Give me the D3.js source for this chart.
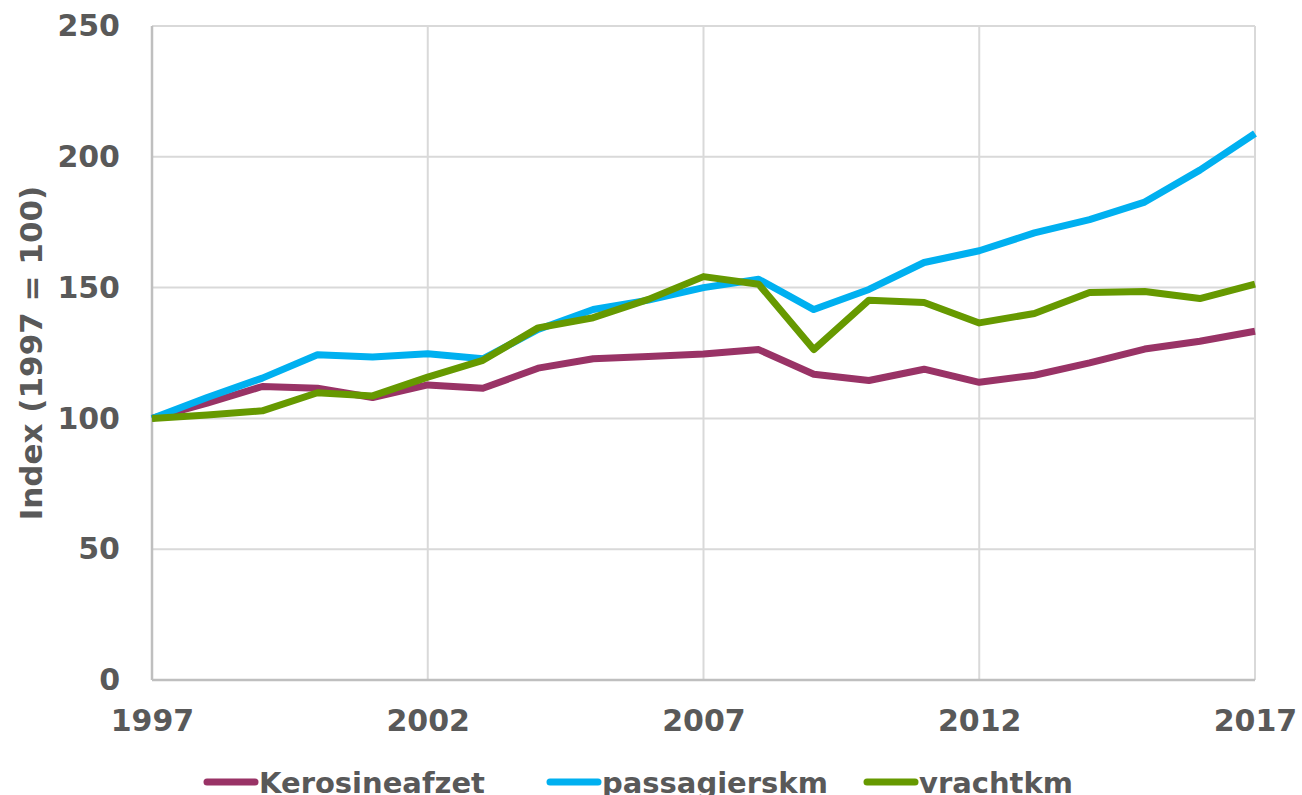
<!DOCTYPE html>
<html>
<head>
<meta charset="utf-8">
<script src="https://cdn.jsdelivr.net/npm/d3@7"></script>
<style>
  body { margin: 0; background: #fff; }
  text { font-family: Verdana, "DejaVu Sans", sans-serif; font-weight: bold; fill: #595959; }
</style>
</head>
<body>
<div class="chart"></div>
<script>
// Data
var years = d3.range(1997, 2018);
var kerosine = [100, 105.8, 112.2, 111.5, 108, 112.8, 111.5, 119.2, 122.8, 123.7, 124.6,
                126.3, 116.9, 114.5, 118.8, 113.8, 116.5, 121.2, 126.5, 129.5, 133.3];
var passagiers = [100, 108, 115.4, 124.3, 123.5, 124.7, 122.8, 134, 141.6, 145.2, 150,
                  153.2, 141.6, 149.3, 159.6, 164.1, 170.9, 176, 182.7, 194.9, 208.9];
var vracht = [100, 101.3, 102.9, 109.8, 108.6, 115.8, 122.2, 134.6, 138.5, 145.5, 154.2,
              151.3, 126.3, 145.2, 144.3, 136.5, 140.1, 148.1, 148.5, 145.8, 151.3];
var seriesNames = ["Kerosineafzet", "passagierskm", "vrachtkm"];
var seriesColors = ["#993366", "#00b0f0", "#669900"];
var yTicks = [0, 50, 100, 150, 200, 250];
var xTicks = [1997, 2002, 2007, 2012, 2017];

var svgWidth = 1302;
var svgHeight = 795;
var margin = { top: 26, right: 47, bottom: 115, left: 152 };
var chartWidth = svgWidth - margin.left - margin.right;
var chartHeight = svgHeight - margin.top - margin.bottom;

var svg = d3.select(".chart")
            .append("svg")
            .attr("width", svgWidth)
            .attr("height", svgHeight);

var chartGroup = svg.append("g")
                    .attr("transform", `translate(${margin.left}, ${margin.top})`);

var xScale = d3.scaleLinear().domain([1997, 2017]).range([0, chartWidth]);
var yScale = d3.scaleLinear().domain([0, 250]).range([chartHeight, 0]);

// gridlines
chartGroup.selectAll(".hgrid")
          .data(yTicks.filter(d => d > 0))
          .enter()
          .append("line")
          .attr("x1", 0).attr("x2", chartWidth)
          .attr("y1", d => yScale(d)).attr("y2", d => yScale(d))
          .attr("stroke", "#d9d9d9").attr("stroke-width", 2);

chartGroup.selectAll(".vgrid")
          .data(xTicks.filter(d => d > 1997))
          .enter()
          .append("line")
          .attr("x1", d => xScale(d)).attr("x2", d => xScale(d))
          .attr("y1", 0).attr("y2", chartHeight)
          .attr("stroke", "#d9d9d9").attr("stroke-width", 2);

// axis lines
chartGroup.append("line")
          .attr("x1", 0).attr("x2", 0).attr("y1", 0).attr("y2", chartHeight)
          .attr("stroke", "#bfbfbf").attr("stroke-width", 2.5);
chartGroup.append("line")
          .attr("x1", 0).attr("x2", chartWidth).attr("y1", chartHeight).attr("y2", chartHeight)
          .attr("stroke", "#bfbfbf").attr("stroke-width", 2.5);

// axes (labels only)
var leftAxis = d3.axisLeft(yScale).tickValues(yTicks).tickSize(0).tickPadding(32);
var bottomAxis = d3.axisBottom(xScale).tickValues(xTicks).tickFormat(d3.format("d")).tickSize(0).tickPadding(30);

var yAxisG = chartGroup.append("g").call(leftAxis);
var xAxisG = chartGroup.append("g").attr("transform", `translate(0, ${chartHeight})`).call(bottomAxis);
[yAxisG, xAxisG].forEach(function (g) {
    g.select(".domain").remove();
    g.selectAll("text")
     .attr("fill", "#595959")
     .style("font-size", "30px")
     .style("font-family", 'Verdana, "DejaVu Sans", sans-serif')
     .style("font-weight", "bold");
});

// lines
var line = d3.line()
             .x((d, i) => xScale(years[i]))
             .y(d => yScale(d));

[kerosine, passagiers, vracht].forEach(function (values, i) {
    chartGroup.append("path")
              .datum(values)
              .attr("d", line)
              .attr("fill", "none")
              .attr("stroke", seriesColors[i])
              .attr("stroke-width", 7)
              .attr("stroke-linejoin", "round");
});

// axis title
svg.append("text")
   .attr("transform", `translate(42, ${margin.top + chartHeight / 2}) rotate(-90)`)
   .attr("text-anchor", "middle")
   .style("font-size", "31px")
   .text("Index (1997 = 100)");

// legend
var legendX = [205, 548, 865];
var legend = svg.selectAll(".legend")
                .data(seriesNames)
                .enter()
                .append("g")
                .attr("transform", (d, i) => `translate(${legendX[i]}, 782)`);
legend.append("line")
      .attr("x1", 2).attr("x2", 50).attr("y1", 0).attr("y2", 0)
      .attr("stroke", (d, i) => seriesColors[i])
      .attr("stroke-width", 7)
      .attr("stroke-linecap", "round");
legend.append("text")
      .attr("x", 54)
      .attr("y", 11)
      .style("font-size", "29px")
      .text(d => d);
</script>
</body>
</html>
